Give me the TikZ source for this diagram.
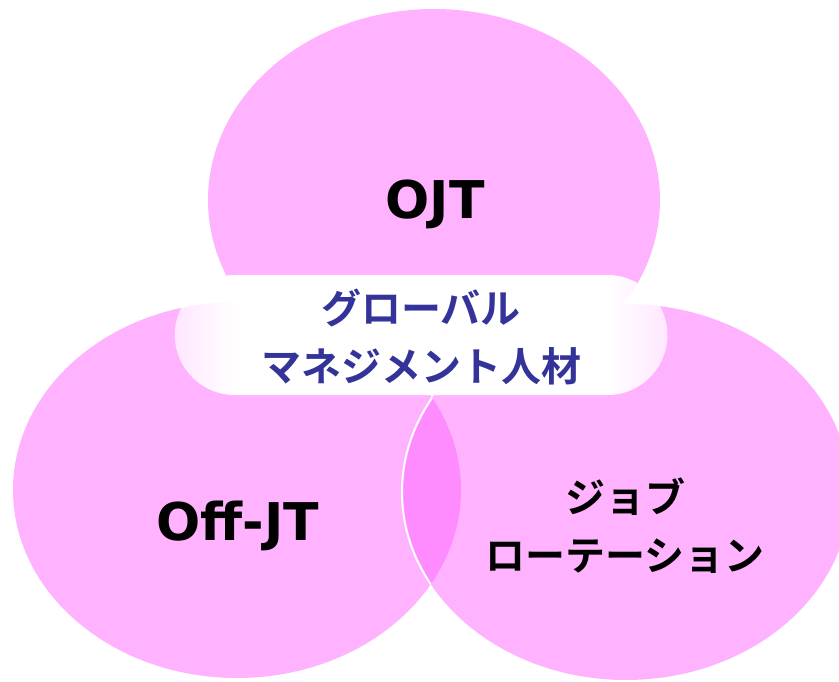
\documentclass[tikz,border=0pt]{standalone}
\usepackage{fontspec}
\usetikzlibrary{fadings}
\newfontfamily\cjk{Noto Sans CJK JP}[BoldFont={* Bold}]
\newfontfamily\latinb{DejaVu Sans}
\definecolor{pinkfill}{RGB}{255,179,255}
\definecolor{lensfill}{RGB}{255,140,255}
\definecolor{navytext}{RGB}{51,51,153}
\pgfdeclarehorizontalshading{boxfadeshade}{100bp}{color(0bp)=(pgftransparent!32); color(25bp)=(pgftransparent!32); color(31bp)=(pgftransparent!0); color(69bp)=(pgftransparent!0); color(75bp)=(pgftransparent!32); color(100bp)=(pgftransparent!32)}
\pgfdeclarefading{boxfade}{\pgfuseshading{boxfadeshade}}
\tikzset{
  latinlabel/.style={text=black, font=\latinb\bfseries\fontsize{52}{60}\selectfont, inner sep=0pt},
  jplabel/.style={text=black, align=center, font=\cjk\bfseries\fontsize{40}{58}\selectfont, inner sep=0pt},
  centrelabel/.style={jplabel, text=navytext},
}
\begin{document}
\begin{tikzpicture}[x=1pt,y=-1pt]
\useasboundingbox (0,0) rectangle (839,682);
% circles
\fill[pinkfill] (434,200) ellipse [x radius=226, y radius=191];
\fill[pinkfill] (237,490) ellipse [x radius=224, y radius=188];
\fill[pinkfill] (626,492) ellipse [x radius=224, y radius=188];
\begin{scope}
  \clip (237,490) ellipse [x radius=224, y radius=188];
  \fill[lensfill] (626,492) ellipse [x radius=224, y radius=188];
  \draw[white, line width=2pt] (626,492) ellipse [x radius=224, y radius=188];
\end{scope}
% centre box
\fill[white, path fading=boxfade, rounded corners=60pt] (175,275) rectangle (668,395);
% labels
\node[latinlabel] (ojt) at (435,204) {OJT};
\node[latinlabel] (offjt) at (238,526) {Off-JT};
\node[jplabel] (job) at (625,526) {ジョブ\\ローテーション};
\node[centrelabel] (centre) at (421,337) {グローバル\\マネジメント人材};
\end{tikzpicture}
\end{document}
